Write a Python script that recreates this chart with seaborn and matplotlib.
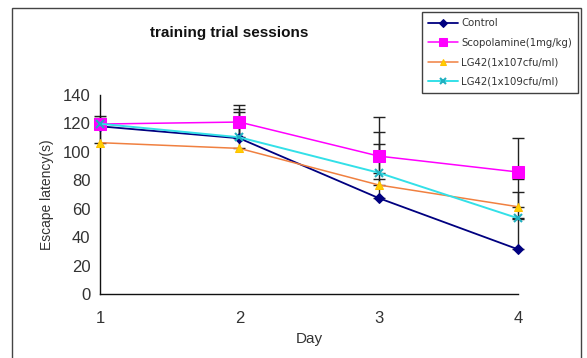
import matplotlib
matplotlib.use("Agg")
import matplotlib.pyplot as plt
import seaborn as sns
import numpy as np
import pandas as pd
from matplotlib.patches import Rectangle

days = [1, 2, 3, 4]
series_names = ["Control", "Scopolamine(1mg/kg)", "LG42(1x107cfu/ml)", "LG42(1x109cfu/ml)"]
control = [118, 109.6, 67.6, 31.6]
scopolamine = [119.6, 121, 97.1, 85.9]
lg42_107 = [106.5, 102.5, 76.8, 61.5]
lg42_109 = [119.8, 110.3, 85.4, 53.4]
# upper error bars
control_err = [7, 20.7, 13.6, 21.4]
scopolamine_err = [4, 12, 27.5, 24.1]
lg42_107_err = [14, 19, 28.6, 19.3]
lg42_109_err = [3, 18, 28.4, 18.7]

values = [control, scopolamine, lg42_107, lg42_109]
errors = [control_err, scopolamine_err, lg42_107_err, lg42_109_err]

sns.set_theme(style="white")
plt.rcParams['font.family'] = ['Liberation Sans', 'DejaVu Sans']

fig = plt.figure(figsize=(5.87, 3.58), dpi=100)
ax = fig.add_axes([100/587, 1-294.3/358, 418/587, (294.3-95)/358])

# outer chart frame
fig.patches.append(Rectangle((12/587, -0.1), (581-12)/587, 1.1 - 8/358, transform=fig.transFigure,
                             fill=False, edgecolor='#444444', linewidth=1.0))

styles = [
    dict(color='#000080', marker='D', markersize=5, markerfacecolor='#000080', markeredgecolor='#000080', linewidth=1.3),
    dict(color='#FF00FF', marker='s', markersize=8, markerfacecolor='#FF00FF', markeredgecolor='#FF00FF', linewidth=1.1),
    dict(color='#F08040', marker='^', markersize=6, markerfacecolor='#FFD000', markeredgecolor='#FFC000', linewidth=1.1),
    dict(color='#33E0E8', marker='x', markersize=6, markeredgewidth=1.5, markeredgecolor='#20B0C0', linewidth=1.4),
]

for name, vals, err in zip(series_names, values, errors):
    eb = ax.errorbar(days, vals, yerr=[np.zeros(len(err)), err], fmt='none', ecolor='#222222',
                     elinewidth=1.0, capsize=4, capthick=1.0, zorder=1.5)
    for art in eb.lines[1]:
        art.set_clip_on(False)
    for art in eb.lines[2]:
        art.set_clip_on(False)

for name, vals, st in zip(series_names, values, styles):
    df = pd.DataFrame({"Day": days, "Latency": vals})
    sns.lineplot(data=df, x="Day", y="Latency", ax=ax, label=name, zorder=3, clip_on=False, **st)

ax.set_xlim(1, 4)
ax.set_ylim(0, 140)
ax.set_xticks(days)
ax.set_yticks(range(0, 141, 20))
for s in ['top', 'right']:
    ax.spines[s].set_visible(False)
for s in ['left', 'bottom']:
    ax.spines[s].set_color('#111111')
    ax.spines[s].set_linewidth(1.0)
ax.tick_params(axis='both', direction='in', length=5, width=1, color='#111111',
               labelsize=12, labelcolor='#333333')
ax.tick_params(axis='x', pad=12)
ax.tick_params(axis='y', pad=7)
ax.set_xlabel("Day", fontsize=11, color='#333333', labelpad=4)
ax.set_ylabel("Escape latency(s)", fontsize=10, color='#333333', labelpad=6)

fig.text(229/587, 1-33/358, "training trial sessions", ha='center', va='center',
         fontsize=11, fontweight='bold', color='#111111')

leg = ax.legend(loc='upper right', bbox_to_anchor=(578/587, 1-12/358),
                bbox_transform=fig.transFigure, frameon=True, fancybox=False,
                prop={'family': 'DejaVu Sans', 'size': 7.3}, handlelength=3.0,
                labelspacing=0.95, borderpad=0.6, handletextpad=0.3, borderaxespad=0,
                markerscale=0.75)
leg.get_frame().set_edgecolor('#111111')
leg.get_frame().set_linewidth(1.0)
for t in leg.get_texts():
    t.set_color('#333333')

fig.savefig("out.png", dpi=100)
